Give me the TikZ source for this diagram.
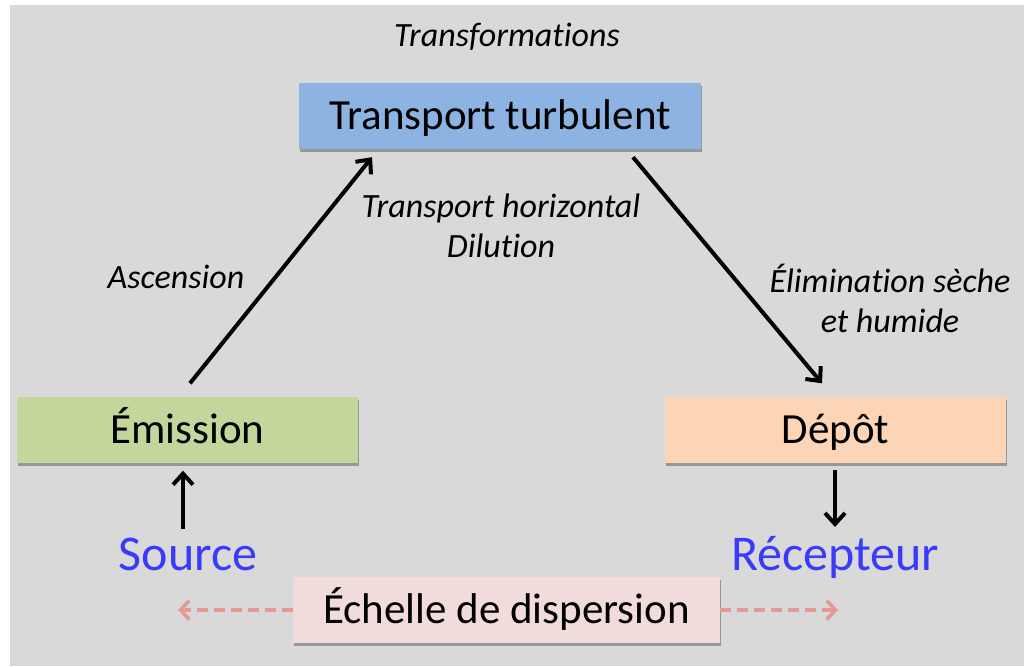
\documentclass[tikz,border=0pt]{standalone}
\usepackage{fontspec}
\setmainfont[Ligatures=NoCommon]{Carlito}
\usetikzlibrary{arrows.meta,shadows,calc}
\definecolor{bg}{HTML}{D9D9D9}
\definecolor{cblue}{HTML}{8DB3E2}
\definecolor{cgreen}{HTML}{C3D69B}
\definecolor{corange}{HTML}{FBD5B5}
\definecolor{cpink}{HTML}{F2DCDB}
\definecolor{ctext}{HTML}{3A3AFF}
\definecolor{cdash}{HTML}{E39A95}
\tikzset{
  box/.style={minimum height=66pt, inner sep=0pt, text height=30pt, text depth=3pt,
    font=\fontsize{43}{50}\selectfont,
    drop shadow={shadow xshift=0.8pt, shadow yshift=-3pt, opacity=0.3, fill=black}},
  lbl/.style={font=\fontsize{34}{40}\selectfont\itshape, align=center, inner sep=0pt},
  endtxt/.style={font=\fontsize{50}{60}\selectfont, text=ctext, inner sep=0pt,
    text height=36pt, text depth=0pt},
  arr/.style={line width=4pt, -{Straight Barb[length=11pt,width=20pt,line width=4pt]}},
  darr/.style={line width=4pt, cdash, dash pattern=on 11pt off 6pt,
    -{Straight Barb[length=9pt,width=19pt,line width=3.5pt]}}
}
\begin{document}
\begin{tikzpicture}[x=1pt,y=-1pt]
\useasboundingbox (0,0) rectangle (1024,666);
\fill[white] (0,0) rectangle (1024,666);
\fill[bg] (10,5) rectangle (1024,666);

\node[box, fill=cblue, minimum width=402pt] (tt) at (500,116) {Transport turbulent};
\node[box, fill=cgreen, minimum width=341pt] (em) at (187.5,429.5) {Émission};
\node[box, fill=corange, minimum width=341pt] (dep) at (835.5,429.5) {Dépôt};
\node[box, fill=cpink, minimum width=427pt] (ech) at (506.5,610) {Échelle de dispersion};

\node[lbl] (trf) at (507,37) {Transformations};
\node[lbl] (th) at (501,226) {Transport horizontal\\Dilution};
\node[lbl] (asc) at (176,277) {Ascension};
\node[lbl] (eli) at (890,298) {Élimination sèche\\et humide};

\node[endtxt] (src) at (188,552) {Source};
\node[endtxt] (rec) at (835,552) {Récepteur};

\coordinate (a1) at ($(em.north)+(2.5,-13)$);
\coordinate (a2) at ($(tt.south)+(-128,8)$);
\coordinate (b1) at ($(tt.south)+(133,8)$);
\coordinate (b2) at ($(dep.north)+(-13.5,-13)$);
\coordinate (s1) at (183,529);
\coordinate (s2) at ($(em.south)+(-4.5,8)$);
\coordinate (r1) at ($(dep.south)+(-0.5,7)$);
\coordinate (r2) at (835,527);
\coordinate (dl) at (178,610);
\coordinate (dr) at (838,610);

\draw[arr] (a1) -- (a2);
\draw[arr] (b1) -- (b2);
\draw[arr] (s1) -- (s2);
\draw[arr] (r1) -- (r2);
\draw[darr] (ech.west) -- (dl);
\draw[darr] (ech.east) -- (dr);
\end{tikzpicture}
\end{document}
